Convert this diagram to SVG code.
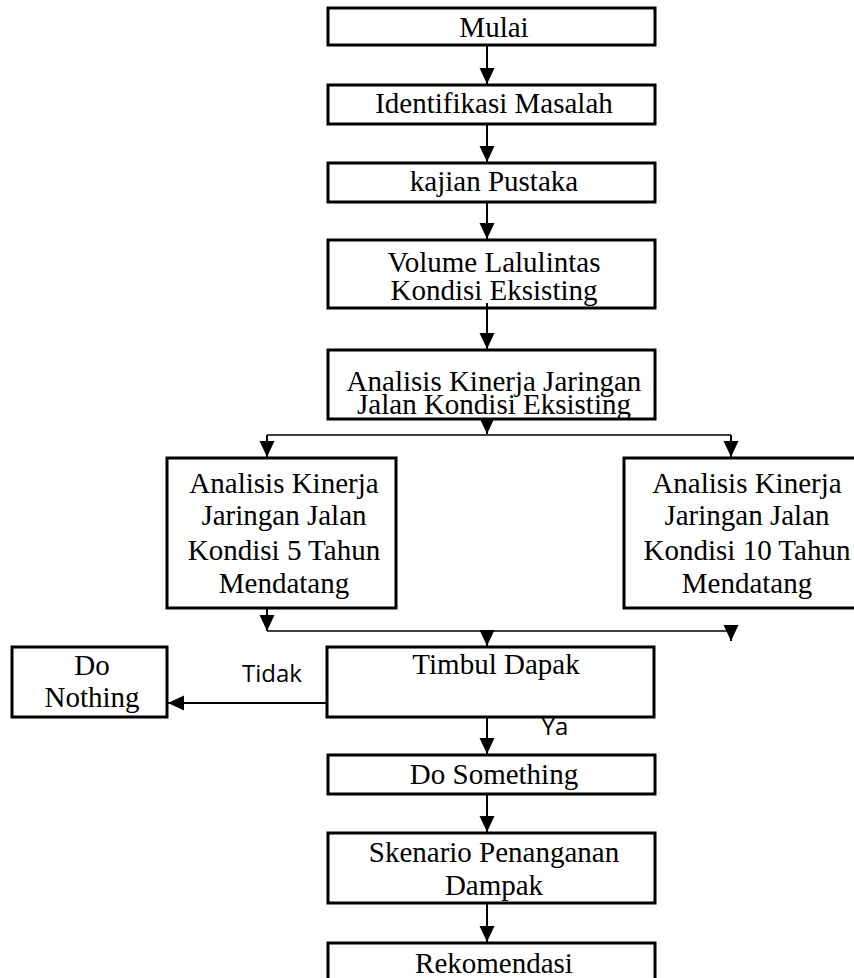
<svg xmlns="http://www.w3.org/2000/svg" width="854" height="978" viewBox="0 0 854 978">
<defs>
<style>
.box{fill:#fff;stroke:#000;stroke-width:3}
.t{font-family:"Liberation Serif","Times New Roman",serif;font-size:29px;fill:#000;text-anchor:middle}
.lbl{font-family:"Open Sans","Liberation Sans",sans-serif;font-size:24px;fill:#000;text-anchor:middle}
.c{stroke:#000;stroke-width:2;fill:none}
.h{stroke:#000;stroke-width:1.5;fill:none}
.a{marker-end:url(#ah)}
</style>
<marker id="ah" markerUnits="userSpaceOnUse" markerWidth="16" markerHeight="16" refX="16" refY="7.5" orient="auto" viewBox="0 0 16 15">
<path d="M0,0 L16,7.5 L0,15 z" fill="#000"/>
</marker>
</defs>
<rect width="854" height="978" fill="#fff"/>
<g id="mulai"><rect class="box" x="328" y="8" width="327" height="37"/><text class="t" x="494" y="37">Mulai</text></g>
<g id="identifikasi"><rect class="box" x="328" y="85" width="327" height="39"/><text class="t" x="494" y="113">Identifikasi Masalah</text></g>
<g id="kajian"><rect class="box" x="328" y="163" width="327" height="39"/><text class="t" x="494" y="191">kajian Pustaka</text></g>
<g id="volume"><rect class="box" x="328" y="240" width="327" height="68"/><text class="t" x="494" y="272">Volume Lalulintas</text><text class="t" x="494" y="300">Kondisi Eksisting</text></g>
<g id="analisis-eksisting"><rect class="box" x="328" y="350" width="327" height="69"/><text class="t" x="494" y="391">Analisis Kinerja Jaringan</text><text class="t" x="494" y="414">Jalan Kondisi Eksisting</text></g>
<g id="analisis-5"><rect class="box" x="167" y="458" width="229" height="150"/><text class="t" x="284" y="493">Analisis Kinerja</text><text class="t" x="284" y="525">Jaringan Jalan</text><text class="t" x="284" y="560">Kondisi 5 Tahun</text><text class="t" x="284" y="593">Mendatang</text></g>
<g id="analisis-10"><rect class="box" x="624" y="458" width="245" height="150"/><text class="t" x="747" y="493">Analisis Kinerja</text><text class="t" x="747" y="525">Jaringan Jalan</text><text class="t" x="747" y="560">Kondisi 10 Tahun</text><text class="t" x="747" y="593">Mendatang</text></g>
<g id="timbul"><rect class="box" x="327" y="647" width="327" height="70"/><text class="t" x="496" y="674">Timbul Dapak</text></g>
<g id="do-nothing"><rect class="box" x="12" y="647" width="155" height="70"/><text class="t" x="92" y="675">Do</text><text class="t" x="92" y="707">Nothing</text></g>
<g id="do-something"><rect class="box" x="328" y="755" width="327" height="39"/><text class="t" x="494" y="784">Do Something</text></g>
<g id="skenario"><rect class="box" x="328" y="833" width="327" height="70"/><text class="t" x="494" y="862">Skenario Penanganan</text><text class="t" x="494" y="895">Dampak</text></g>
<g id="rekomendasi"><rect class="box" x="328" y="943" width="327" height="42"/><text class="t" x="494" y="973">Rekomendasi</text></g>
<g id="connectors">
<line class="c a" x1="487" y1="45" x2="487" y2="84"/>
<line class="c a" x1="487" y1="124" x2="487" y2="162"/>
<line class="c a" x1="487" y1="202" x2="487" y2="239"/>
<line class="c a" x1="487" y1="303" x2="487" y2="349"/>
<line class="c a" x1="487" y1="420" x2="487" y2="434"/>
<line class="h" x1="267" y1="435" x2="731" y2="435"/>
<line class="c a" x1="267" y1="435" x2="267" y2="457"/>
<line class="c a" x1="731" y1="435" x2="731" y2="457"/>
<line class="c a" x1="267" y1="609" x2="267" y2="631"/>
<line class="h" x1="267" y1="631" x2="731" y2="631"/>
<line class="c a" x1="731" y1="628" x2="731" y2="641"/>
<line class="c a" x1="487" y1="631" x2="487" y2="646"/>
<line class="c a" x1="327" y1="703" x2="168" y2="703"/>
<line class="c a" x1="487" y1="718" x2="487" y2="754"/>
<line class="c a" x1="487" y1="795" x2="487" y2="832"/>
<line class="c a" x1="487" y1="904" x2="487" y2="942"/>
<text class="lbl" x="272" y="682">Tidak</text>
<text class="lbl" x="555" y="735">Ya</text>
</g>
</svg>
